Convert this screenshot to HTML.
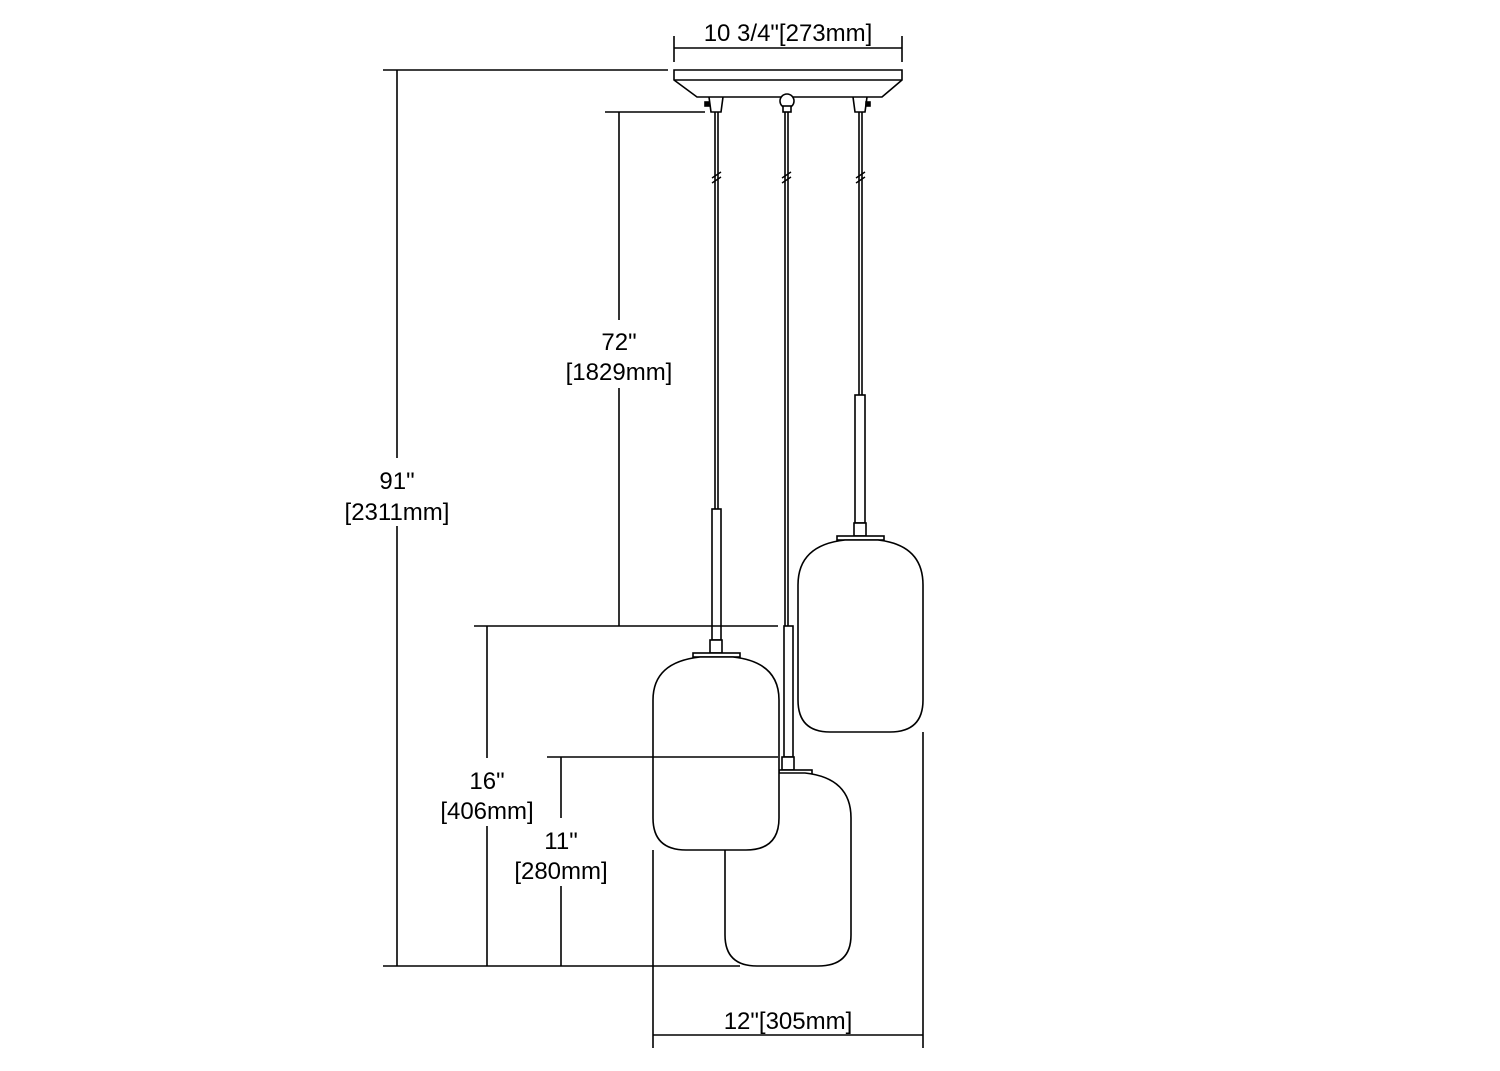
<!DOCTYPE html>
<html><head><style>body{margin:0;background:#fff}svg{display:block}</style></head><body>
<svg width="1500" height="1071" viewBox="0 0 1500 1071" xmlns="http://www.w3.org/2000/svg" font-family="Liberation Sans, Arial, sans-serif" font-size="24" fill="none" stroke="#000" stroke-width="1.6">
<!-- canopy -->
<path d="M674 70 H902 V80 L882 97 H697 L674 80 Z" fill="#fff"/>
<line x1="674" y1="80" x2="902" y2="80"/>
<path d="M709 97 L711 112 H721 L723 97" /><rect x="705" y="102" width="4" height="4" fill="#000"/>
<path d="M853 97 L855 112 H865 L867 97" /><rect x="866" y="102" width="4" height="4" fill="#000"/>
<circle cx="787" cy="101" r="7" fill="#fff"/><rect x="783" y="106" width="8" height="6" fill="#fff"/>
<!-- cords -->
<line x1="715" y1="112" x2="715" y2="509"/><line x1="718" y1="112" x2="718" y2="509"/>
<line x1="785" y1="112" x2="785" y2="626"/><line x1="788" y1="112" x2="788" y2="626"/>
<line x1="859" y1="112" x2="859" y2="395"/><line x1="862" y1="112" x2="862" y2="395"/>
<g stroke-width="1.4"><line x1="712" y1="178" x2="721" y2="172"/><line x1="712" y1="183" x2="721" y2="177"/>
<line x1="782" y1="178" x2="791" y2="172"/><line x1="782" y1="183" x2="791" y2="177"/>
<line x1="856" y1="178" x2="865" y2="172"/><line x1="856" y1="183" x2="865" y2="177"/></g>
<!-- right pendant -->
<rect x="855" y="395" width="10" height="128" fill="#fff"/>
<rect x="854" y="523" width="12" height="13" fill="#fff"/>
<rect x="837" y="536" width="47" height="4" fill="#fff"/>
<path d="M798 585 Q798 545 845 540 H878 Q923 545 923 585 V700 Q923 732 890 732 H830 Q798 732 798 700 Z" fill="#fff"/>
<!-- middle pendant -->
<rect x="784" y="626" width="9" height="131" fill="#fff"/>
<rect x="782" y="757" width="12" height="13" fill="#fff"/>
<rect x="779" y="770" width="33" height="4" fill="#fff"/>
<path d="M725 818 Q725 778 772 773 H805 Q851 778 851 818 V935 Q851 966 818 966 H757 Q725 966 725 935 Z" fill="#fff"/>
<!-- left pendant -->
<rect x="712" y="509" width="9" height="131" fill="#fff"/>
<rect x="710" y="640" width="12" height="13" fill="#fff"/>
<rect x="693" y="653" width="47" height="4" fill="#fff"/>
<path d="M653 700 Q653 662 700 657 H733 Q779 662 779 700 V818 Q779 850 746 850 H686 Q653 850 653 818 Z" fill="#fff"/>
<!-- dimension lines -->
<line x1="674" y1="36" x2="674" y2="62"/><line x1="902" y1="36" x2="902" y2="62"/><line x1="674" y1="48" x2="902" y2="48"/>
<line x1="383" y1="70" x2="668" y2="70"/><line x1="383" y1="966" x2="740" y2="966"/>
<line x1="397" y1="70" x2="397" y2="966"/>
<line x1="605" y1="112" x2="705" y2="112"/><line x1="474" y1="626" x2="778" y2="626"/>
<line x1="619" y1="112" x2="619" y2="626"/>
<line x1="487" y1="626" x2="487" y2="966"/>
<line x1="547" y1="757" x2="778" y2="757"/>
<line x1="561" y1="757" x2="561" y2="966"/>
<line x1="653" y1="850" x2="653" y2="1048"/><line x1="923" y1="732" x2="923" y2="1048"/>
<line x1="653" y1="1035" x2="923" y2="1035"/>
<!-- label backgrounds -->
<g fill="#fff" stroke="none">
<rect x="340" y="458" width="114" height="68"/>
<rect x="560" y="320" width="118" height="68"/>
<rect x="436" y="758" width="102" height="68"/>
<rect x="511" y="818" width="102" height="68"/>
</g>
<!-- text -->
<g fill="#000" stroke="none" text-anchor="middle">
<text x="788" y="41">10 3/4"[273mm]</text>
<text x="619" y="350">72"</text><text x="619" y="380">[1829mm]</text>
<text x="397" y="489">91"</text><text x="397" y="520">[2311mm]</text>
<text x="487" y="789">16"</text><text x="487" y="819">[406mm]</text>
<text x="561" y="849">11"</text><text x="561" y="879">[280mm]</text>
<text x="788" y="1029">12"[305mm]</text>
</g>
</svg>
</body></html>
